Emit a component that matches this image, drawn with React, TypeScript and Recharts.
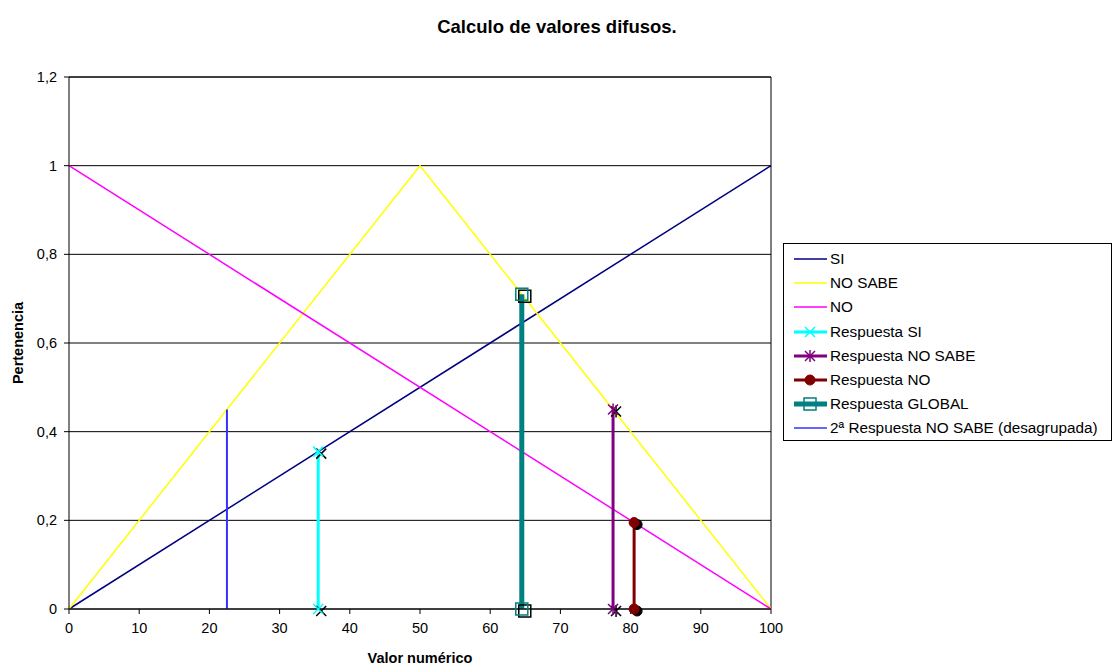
import React from "react";
import {
  CartesianGrid,
  Line,
  LineChart,
  ReferenceLine,
  XAxis,
  YAxis,
} from "recharts";

// membership functions
const siPts = [
  { x: 0, y: 0 },
  { x: 100, y: 1 },
];
const noSabePts = [
  { x: 0, y: 0 },
  { x: 50, y: 1 },
  { x: 100, y: 0 },
];
const noPts = [
  { x: 0, y: 1 },
  { x: 100, y: 0 },
];

// answers (vertical drops from the curve to the axis)
const respSiPts = [
  { x: 35.5, y: 0.355 },
  { x: 35.5, y: 0 },
];
const respNoSabePts = [
  { x: 77.5, y: 0.45 },
  { x: 77.5, y: 0 },
];
const respNoPts = [
  { x: 80.5, y: 0.195 },
  { x: 80.5, y: 0 },
];
const respGlobalPts = [
  { x: 64.5, y: 0.71 },
  { x: 64.5, y: 0 },
];
const resp2NoSabePts = [
  { x: 22.5, y: 0.45 },
  { x: 22.5, y: 0 },
];

const xTicks = [0, 10, 20, 30, 40, 50, 60, 70, 80, 90, 100];
const yTicks = [0, 0.2, 0.4, 0.6, 0.8, 1, 1.2];

const FONT = "'Liberation Sans', Arial, sans-serif";
const FS = 14.5;

type MarkerKind = "x" | "star" | "circle" | "square" | "none";

function Marker({ kind, cx, cy, color }: { kind: MarkerKind; cx: number; cy: number; color: string }) {
  if (kind === "x")
    return (
      <g stroke={color} strokeWidth={1.5} fill="none">
        <line x1={cx - 5} y1={cy - 5} x2={cx + 5} y2={cy + 5} />
        <line x1={cx - 5} y1={cy + 5} x2={cx + 5} y2={cy - 5} />
      </g>
    );
  if (kind === "star")
    return (
      <g stroke={color} strokeWidth={1.5} fill="none">
        <line x1={cx - 5} y1={cy - 5} x2={cx + 5} y2={cy + 5} />
        <line x1={cx - 5} y1={cy + 5} x2={cx + 5} y2={cy - 5} />
        <line x1={cx} y1={cy - 6} x2={cx} y2={cy + 6} />
      </g>
    );
  if (kind === "circle") return <circle cx={cx} cy={cy} r={5} fill={color} stroke={color} />;
  if (kind === "square")
    return <rect x={cx - 6} y={cy - 6} width={12} height={12} fill="none" stroke={color} strokeWidth={1.5} />;
  return null;
}

// marker with a black drop shadow underneath
function shadowDot(kind: MarkerKind, color: string) {
  return (props: any) => {
    const { cx, cy, index } = props;
    if (cx == null || cy == null) return <g key={index} />;
    return (
      <g key={index}>
        <Marker kind={kind} cx={cx + 3} cy={cy + 2} color="#000" />
        <Marker kind={kind} cx={cx} cy={cy} color={color} />
      </g>
    );
  };
}

const legendItems: { name: string; color: string; width: number; kind: MarkerKind }[] = [
  { name: "SI", color: "#000080", width: 1.5, kind: "none" },
  { name: "NO SABE", color: "#FFFF00", width: 1.5, kind: "none" },
  { name: "NO", color: "#FF00FF", width: 1.5, kind: "none" },
  { name: "Respuesta SI", color: "#00FFFF", width: 3, kind: "x" },
  { name: "Respuesta NO SABE", color: "#800080", width: 3, kind: "star" },
  { name: "Respuesta NO", color: "#800000", width: 3, kind: "circle" },
  { name: "Respuesta GLOBAL", color: "#008080", width: 5, kind: "square" },
  { name: "2ª Respuesta NO SABE (desagrupada)", color: "#3333FF", width: 1.5, kind: "none" },
];

function LegendBox() {
  return (
    <div
      style={{
        position: "absolute",
        left: 783,
        top: 243,
        width: 329,
        height: 198,
        boxSizing: "border-box",
        border: "1px solid #000",
        background: "#fff",
        padding: "3px 0 0 0",
        fontFamily: FONT,
        fontSize: 15.3,
        color: "#000",
      }}
    >
      {legendItems.map((it) => (
        <div key={it.name} style={{ display: "flex", alignItems: "center", height: 24.2 }}>
          <svg width={46} height={16} style={{ flex: "none" }}>
            <line x1={10} y1={8} x2={43} y2={8} stroke={it.color} strokeWidth={it.width} />
            <Marker kind={it.kind} cx={26} cy={8} color={it.color} />
          </svg>
          <span style={{ whiteSpace: "nowrap" }}>{it.name}</span>
        </div>
      ))}
    </div>
  );
}

const fmtY = (v: number) => String(v).replace(".", ",");

export default function App() {
  return (
    <div style={{ position: "absolute", left: 0, top: 0, width: 1114, height: 666, background: "#fff" }}>
      <div
        style={{
          position: "absolute",
          top: 16,
          left: 0,
          width: 1114,
          textAlign: "center",
          fontFamily: FONT,
          fontWeight: "bold",
          fontSize: 18.5,
        }}
      >
        Calculo de valores difusos.
      </div>
      <LineChart width={1114} height={666} margin={{ top: 77, right: 343, bottom: 27, left: 9 }}>
        <CartesianGrid horizontal vertical={false} stroke="#000" strokeWidth={1} />
        <XAxis
          type="number"
          dataKey="x"
          domain={[0, 100]}
          ticks={xTicks}
          interval={0}
          height={30}
          stroke="#000"
          tickSize={5}
          tickMargin={9}
          tick={{ fill: "#000", fontSize: FS, fontFamily: FONT }}
          label={{
            value: "Valor numérico",
            position: "insideBottom",
            offset: -24,
            fill: "#000",
            fontSize: FS,
            fontWeight: "bold",
            fontFamily: FONT,
          }}
        />
        <YAxis
          type="number"
          domain={[0, 1.2]}
          ticks={yTicks}
          interval={0}
          width={60}
          stroke="#000"
          tickSize={5}
          tickMargin={7}
          tickFormatter={fmtY}
          tick={{ fill: "#000", fontSize: FS, fontFamily: FONT }}
          label={{
            value: "Pertenencia",
            angle: -90,
            position: "insideLeft",
            offset: 9,
            fill: "#000",
            fontSize: FS,
            fontWeight: "bold",
            fontFamily: FONT,
            style: { textAnchor: "middle" },
          }}
        />
        <ReferenceLine x={100} stroke="#000" strokeWidth={1} />
        <ReferenceLine y={1.2} stroke="#000" strokeWidth={1} />

        <Line data={siPts} dataKey="y" name="SI" type="linear" stroke="#000080" strokeWidth={1.5} dot={false} activeDot={false} isAnimationActive={false} />
        <Line data={noSabePts} dataKey="y" name="NO SABE" type="linear" stroke="#FFFF00" strokeWidth={1.5} dot={false} activeDot={false} isAnimationActive={false} />
        <Line data={noPts} dataKey="y" name="NO" type="linear" stroke="#FF00FF" strokeWidth={1.5} dot={false} activeDot={false} isAnimationActive={false} />
        <Line data={resp2NoSabePts} dataKey="y" name="2ª Respuesta NO SABE (desagrupada)" type="linear" stroke="#3333FF" strokeWidth={2} dot={false} activeDot={false} isAnimationActive={false} />
        <Line data={respSiPts} dataKey="y" name="Respuesta SI" type="linear" stroke="#00FFFF" strokeWidth={3} dot={shadowDot("x", "#00FFFF")} activeDot={false} isAnimationActive={false} />
        <Line data={respNoSabePts} dataKey="y" name="Respuesta NO SABE" type="linear" stroke="#800080" strokeWidth={3} dot={shadowDot("star", "#800080")} activeDot={false} isAnimationActive={false} />
        <Line data={respNoPts} dataKey="y" name="Respuesta NO" type="linear" stroke="#800000" strokeWidth={3} dot={shadowDot("circle", "#800000")} activeDot={false} isAnimationActive={false} />
        <Line data={respGlobalPts} dataKey="y" name="Respuesta GLOBAL" type="linear" stroke="#008080" strokeWidth={5} dot={shadowDot("square", "#008080")} activeDot={false} isAnimationActive={false} />
      </LineChart>
      <LegendBox />
    </div>
  );
}
